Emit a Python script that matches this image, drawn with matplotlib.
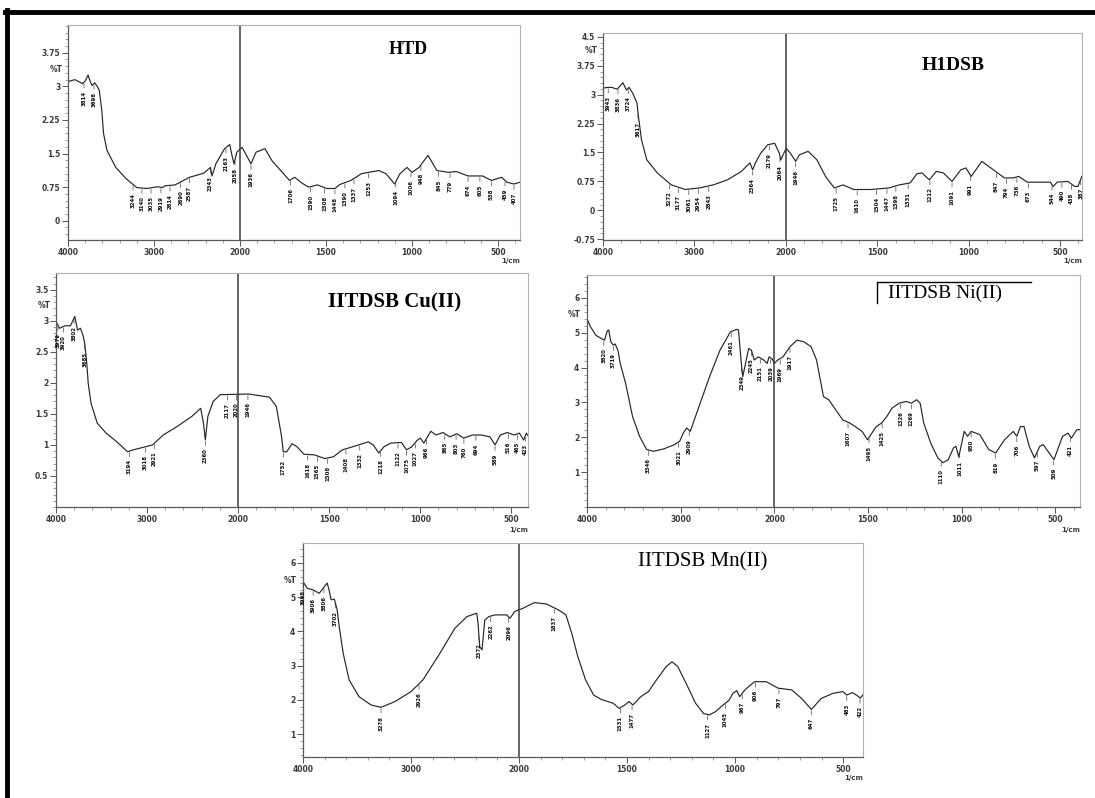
import numpy as np
import matplotlib
matplotlib.use('Agg')
import matplotlib.pyplot as plt
from matplotlib.ticker import FixedLocator, AutoMinorLocator

# ---- FTIR spectra: wavenumber (1/cm) and %T ----
htd_wn = [4000, 3977, 3920, 3870, 3830, 3800, 3767, 3740, 3720, 3690, 3660, 3636, 3607, 3587,
          3547, 3444, 3325, 3200, 3081, 2960, 2900, 2872, 2756, 2587, 2424, 2343, 2326, 2300,
          2281, 2179, 2119, 2098, 2070, 2037, 1988, 1957, 1936, 1907, 1855, 1814, 1763, 1712,
          1682, 1640, 1600, 1549, 1498, 1448, 1419, 1355, 1294, 1253, 1192, 1151, 1101, 1070,
          1029, 1000, 959, 907, 855, 785, 744, 674, 590, 538, 478, 448, 407, 372]
htd_t = [3.10, 3.12, 3.15, 3.10, 3.06, 3.12, 3.25, 3.10, 3.02, 3.08, 3.00, 2.91, 2.46, 1.95,
         1.57, 1.19, 0.94, 0.74, 0.72, 0.76, 0.74, 0.78, 0.80, 0.97, 1.06, 1.19, 1.00, 1.15,
         1.27, 1.61, 1.70, 1.50, 1.27, 1.53, 1.64, 1.42, 1.27, 1.53, 1.61, 1.34, 1.12, 0.90,
         0.97, 0.84, 0.75, 0.80, 0.72, 0.72, 0.81, 0.90, 1.05, 1.08, 1.12, 1.05, 0.82, 1.05,
         1.19, 1.08, 1.19, 1.46, 1.12, 1.08, 1.10, 1.00, 1.00, 0.90, 0.97, 0.86, 0.82, 0.86]
htd_peaks = [3814, 3698, 3244, 3140, 3035, 2919, 2814, 2690, 2587, 2343, 2163, 2058, 1936,
             1706, 1590, 1508, 1448, 1390, 1337, 1253, 1094, 1006, 948, 845, 779, 674, 605,
             538, 459, 407]

htdsb_wn = [4000, 3943, 3904, 3846, 3782, 3743, 3715, 3675, 3628, 3617, 3579, 3521, 3406, 3253,
            3099, 2946, 2793, 2639, 2486, 2393, 2363, 2333, 2275, 2198, 2122, 2071, 2056, 1998,
            1975, 1946, 1926, 1878, 1830, 1783, 1735, 1687, 1629, 1533, 1437, 1379, 1320, 1283,
            1255, 1215, 1177, 1138, 1091, 1043, 1015, 986, 928, 890, 842, 804, 756, 727, 679,
            553, 538, 516, 457, 420, 402, 381]
htdsb_t = [3.17, 3.19, 3.19, 3.14, 3.31, 3.12, 3.19, 3.04, 2.78, 2.52, 1.83, 1.31, 0.97, 0.66,
           0.54, 0.58, 0.66, 0.79, 1.01, 1.23, 1.05, 1.23, 1.48, 1.70, 1.74, 1.48, 1.31, 1.61,
           1.48, 1.27, 1.44, 1.53, 1.31, 0.88, 0.58, 0.66, 0.54, 0.54, 0.58, 0.66, 0.71, 0.95,
           0.97, 0.79, 1.01, 0.97, 0.75, 1.05, 1.10, 0.88, 1.27, 1.14, 0.97, 0.84, 0.84, 0.88, 0.73,
           0.73, 0.62, 0.73, 0.75, 0.62, 0.62, 0.88]
htdsb_peaks = [3943, 3836, 3724, 3617, 3272, 3177, 3061, 2954, 2843, 2364, 2179, 2064, 1946,
               1725, 1610, 1504, 1447, 1398, 1331, 1212, 1091, 991, 847, 794, 736, 673, 544,
               490, 438, 387]

cu_wn = [4000, 3960, 3900, 3841, 3794, 3763, 3732, 3704, 3685, 3665, 3646, 3615, 3547, 3449,
         3332, 3214, 3155, 3018, 2940, 2822, 2666, 2508, 2411, 2380, 2360, 2332, 2274, 2196,
         1942, 1828, 1790, 1761, 1752, 1733, 1704, 1676, 1638, 1581, 1524, 1476, 1428, 1371,
         1285, 1257, 1228, 1199, 1161, 1103, 1075, 1046, 1018, 999, 980, 942, 913, 875, 837,
         799, 761, 713, 665, 617, 589, 560, 522, 484, 455, 432, 417, 408]
cu_t = [2.99, 2.88, 2.92, 2.92, 3.07, 2.85, 2.88, 2.77, 2.64, 2.37, 1.99, 1.67, 1.35, 1.19,
        1.05, 0.89, 0.92, 0.97, 1.00, 1.16, 1.30, 1.46, 1.59, 1.35, 1.08, 1.46, 1.70, 1.81,
        1.82, 1.77, 1.62, 1.13, 0.89, 0.89, 1.02, 0.97, 0.85, 0.84, 0.78, 0.81, 0.92, 0.97,
        1.05, 1.00, 0.87, 0.97, 1.03, 1.04, 0.92, 0.97, 1.07, 1.11, 1.03, 1.22, 1.16, 1.20, 1.13,
        1.18, 1.11, 1.16, 1.16, 1.13, 1.00, 1.16, 1.20, 1.16, 1.19, 1.08, 1.19, 1.15]
cu_peaks = [3979, 3920, 3802, 3685, 3194, 3018, 2921, 2360, 2117, 2020, 1946, 1752, 1618,
            1565, 1508, 1408, 1332, 1218, 1122, 1075, 1027, 966, 865, 803, 760, 694, 589,
            516, 465, 423]

ni_wn = [4000, 3962, 3906, 3850, 3813, 3783, 3768, 3745, 3719, 3700, 3670, 3645, 3588, 3514,
         3439, 3364, 3290, 3178, 3066, 3010, 2973, 2935, 2898, 2804, 2692, 2581, 2469, 2401,
         2383, 2356, 2338, 2300, 2274, 2245, 2215, 2170, 2114, 2077, 2057, 2021, 2002, 1982,
         1954, 1917, 1879, 1842, 1804, 1775, 1738, 1710, 1673, 1635, 1597, 1569, 1532, 1503,
         1485, 1456, 1428, 1400, 1372, 1334, 1297, 1269, 1241, 1222, 1203, 1166, 1128, 1100,
         1072, 1044, 1031, 1016, 987, 969, 950, 904, 856, 819, 772, 725, 706, 687, 668, 640,
         612, 584, 565, 527, 508, 462, 433, 415, 386, 368]
ni_t = [5.41, 5.17, 4.93, 4.84, 4.79, 5.06, 5.08, 4.74, 4.65, 4.68, 4.50, 4.12, 3.55, 2.60,
        2.03, 1.65, 1.60, 1.67, 1.79, 1.89, 2.12, 2.27, 2.17, 2.89, 3.74, 4.50, 5.03, 5.10,
        5.08, 4.22, 3.74, 4.22, 4.55, 4.50, 4.22, 4.31, 4.22, 4.12, 4.31, 4.24, 4.12, 4.22,
        4.31, 4.60, 4.79, 4.74, 4.60, 4.22, 3.17, 3.08, 2.79, 2.50, 2.41, 2.31, 2.17, 1.93,
        2.08, 2.31, 2.41, 2.60, 2.84, 2.98, 3.03, 2.98, 3.08, 2.98, 2.41, 1.84, 1.41, 1.27,
        1.36, 1.70, 1.74, 1.44, 2.17, 2.03, 2.17, 2.08, 1.65, 1.55, 1.93, 2.17, 2.03, 2.31, 2.31, 1.74,
        1.41, 1.74, 1.79, 1.50, 1.36, 2.03, 2.12, 1.98, 2.22, 2.22]
ni_peaks = [3820, 3719, 3346, 3021, 2909, 2461, 2349, 2245, 2151, 2039, 1969, 1917, 1607,
            1495, 1425, 1326, 1269, 1110, 1011, 950, 819, 706, 597, 509, 421]

mn_wn = [4000, 3961, 3906, 3850, 3806, 3776, 3759, 3740, 3710, 3684, 3665, 3628, 3573, 3481,
         3370, 3278, 3148, 3000, 2890, 2742, 2594, 2483, 2391, 2380, 2364, 2343, 2317, 2280,
         2224, 2114, 2084, 2040, 1983, 1929, 1874, 1819, 1783, 1756, 1728, 1692, 1655, 1619,
         1564, 1537, 1510, 1491, 1473, 1437, 1401, 1364, 1319, 1292, 1265, 1219, 1183, 1146,
         1119, 1092, 1055, 1028, 1010, 992, 979, 955, 910, 856, 801, 738, 692, 647, 601, 547,
         501, 483, 456, 430, 420, 408]
mn_t = [5.45, 5.26, 5.21, 5.11, 5.29, 5.41, 5.21, 4.92, 4.94, 4.63, 4.14, 3.36, 2.58, 2.09,
        1.85, 1.78, 1.95, 2.24, 2.58, 3.31, 4.09, 4.43, 4.53, 4.24, 3.55, 3.46, 4.33, 4.43,
        4.48, 4.48, 4.38, 4.58, 4.67, 4.84, 4.80, 4.63, 4.48, 3.94, 3.26, 2.58, 2.14, 2.01,
        1.90, 1.75, 1.85, 1.95, 1.85, 2.09, 2.24, 2.58, 2.97, 3.11, 2.97, 2.38, 1.90, 1.60,
        1.56, 1.65, 1.85, 1.99, 2.19, 2.27, 2.09, 2.29, 2.53, 2.53, 2.34, 2.29, 2.04, 1.72,
        2.04, 2.19, 2.24, 2.14, 2.21, 2.10, 2.05, 2.15]
mn_peaks = [3998, 3906, 3806, 3702, 3278, 2926, 2372, 2262, 2096, 1837, 1531, 1477, 1127,
            1045, 967, 906, 797, 647, 483, 422]

# Shimadzu style axis: 4000-2000 compressed, 2000-400 expanded twice
# (increasing function, the reversed limits then put 4000 on the left)
def fwd(x):
    x = np.asarray(x, dtype=float)
    return np.where(x >= 2000, x - 4000, -2000 - 2 * (2000 - x))

def inv(u):
    u = np.asarray(u, dtype=float)
    return np.where(u >= -2000, u + 4000, 2000 + (u + 2000) / 2)

major_x = [4000, 3000, 2000, 1500, 1000, 500]
minor_x = [v for v in range(3800, 2000, -200) if v != 3000] + \
          [v for v in range(1900, 350, -100) if v not in (1500, 1000, 500)]

fig = plt.figure(figsize=(10.95, 7.98), dpi=100)
W, H = 1095, 798


def draw_panel(box, wn, t, peaks, xright, ylim, yticks, ylabels, title, title_pos, title_kw, pct_y):
    l, r, top, bot = box
    ax = fig.add_axes([l / W, 1 - bot / H, (r - l) / W, (bot - top) / H])
    ax.set_xscale('function', functions=(fwd, inv))
    ax.plot(wn, t, color='#262626', lw=0.85)
    ax.set_xlim(4000, xright)
    ax.set_ylim(*ylim)
    ax.axvline(2000, color='#3a3a3a', lw=1.1)

    ax.xaxis.set_major_locator(FixedLocator(major_x))
    ax.xaxis.set_minor_locator(FixedLocator(minor_x))
    ax.set_xticklabels([str(v) for v in major_x])
    ax.set_yticks(yticks)
    ax.set_yticklabels(ylabels)
    ax.yaxis.set_minor_locator(AutoMinorLocator(5))
    ax.tick_params(which='major', length=4, width=0.7, color='#555555',
                   labelsize=5.5, labelcolor='#3a3a3a', pad=1.5)
    ax.tick_params(which='minor', length=2, width=0.5, color='#777777')
    for lab in ax.get_xticklabels() + ax.get_yticklabels():
        lab.set_fontweight('bold')
    for side in ['top', 'right']:
        ax.spines[side].set_color('#b0b0b0')
        ax.spines[side].set_linewidth(0.8)
    for side in ['left', 'bottom']:
        ax.spines[side].set_color('#5a5a5a')
        ax.spines[side].set_linewidth(0.9)

    ax.text(-0.012, pct_y, '%T', transform=ax.transAxes, ha='right', va='center',
            fontsize=5.5, color='#3a3a3a', fontweight='bold')
    ax.text(1.0, -0.085, '1/cm', transform=ax.transAxes, ha='right', va='top',
            fontsize=5, color='#3a3a3a', fontweight='bold')
    ax.text(title_pos[0], title_pos[1], title, transform=ax.transAxes, ha='center',
            va='center', family='Liberation Serif', **title_kw)

    # peak picks written under the curve
    wn_inc = np.array(wn[::-1], dtype=float)
    t_inc = np.array(t[::-1], dtype=float)
    for p in peaks:
        yv = np.interp(p, wn_inc, t_inc)
        ax.annotate(str(p), xy=(p, yv), xytext=(0, -6), textcoords='offset points',
                    rotation=90, ha='center', va='top', fontsize=3.9, fontweight='bold',
                    color='#111111',
                    arrowprops=dict(arrowstyle='-', lw=0.45, color='#333333',
                                    shrinkA=0, shrinkB=1))
    return ax


# HTD
draw_panel((68, 520, 25, 240), htd_wn, htd_t, htd_peaks, 372, (-0.43, 4.37),
           [0, 0.75, 1.5, 2.25, 3, 3.75], ['0', '0.75', '1.5', '2.25', '3', '3.75'],
           'HTD', (0.752, 0.888), dict(fontsize=13, fontweight='bold'), 0.795)

# HTDSB
draw_panel((603, 1082, 33, 240), htdsb_wn, htdsb_t, htdsb_peaks, 380, (-0.77, 4.6),
           [-0.75, 0, 0.75, 1.5, 2.25, 3, 3.75, 4.5],
           ['-0.75', '0', '0.75', '1.5', '2.25', '3', '3.75', '4.5'],
           'H1DSB', (0.731, 0.845), dict(fontsize=14, fontweight='bold'), 0.914)

# Cu complex
draw_panel((56, 528, 273, 507), cu_wn, cu_t, cu_peaks, 408, (0, 3.77),
           [0.5, 1, 1.5, 2, 2.5, 3, 3.5], ['0.5', '1', '1.5', '2', '2.5', '3', '3.5'],
           'IITDSB Cu(II)', (0.718, 0.876), dict(fontsize=15, fontweight='bold'), 0.859)

# Ni complex
ax4 = draw_panel((587, 1080, 275, 507), ni_wn, ni_t, ni_peaks, 369, (0, 6.66),
                 [1, 2, 3, 4, 5, 6], ['1', '2', '3', '4', '5', '6'],
                 'IITDSB Ni(II)', (0.726, 0.922), dict(fontsize=14), 0.828)
ax4.plot([0.588, 0.588, 0.9006], [0.879, 0.970, 0.970], transform=ax4.transAxes,
         color='black', lw=1.0, clip_on=False)

# Mn complex
draw_panel((303, 863, 543, 757), mn_wn, mn_t, mn_peaks, 408, (0.33, 6.58),
           [1, 2, 3, 4, 5, 6], ['1', '2', '3', '4', '5', '6'],
           'IITDSB Mn(II)', (0.714, 0.911), dict(fontsize=15), 0.827)

# black frame along top and left edge of the figure
fig.add_artist(plt.Line2D([5 / W, 1], [1 - 12 / H, 1 - 12 / H], color='black', lw=3.5,
                          transform=fig.transFigure))
fig.add_artist(plt.Line2D([7 / W, 7 / W], [0, 1 - 10 / H], color='black', lw=3.5,
                          transform=fig.transFigure))

plt.savefig('out.png', dpi=100)
